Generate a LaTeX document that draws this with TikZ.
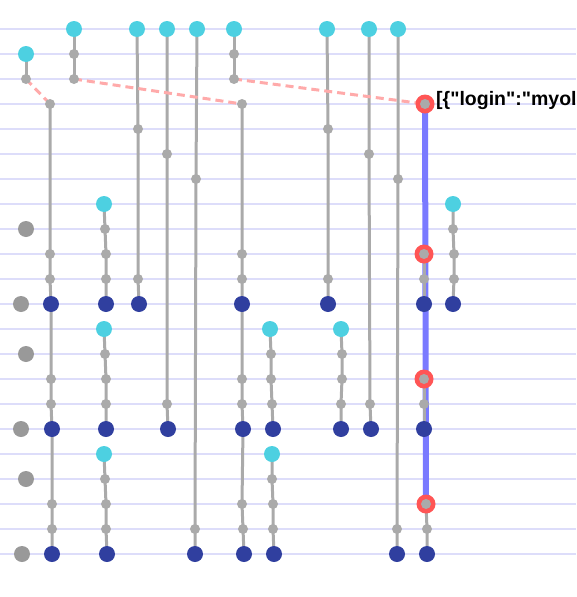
\documentclass[tikz,border=0pt]{standalone}
\usepackage{fontspec}
\setmainfont{Liberation Sans}
\newfontfamily\lblfont{Liberation Sans}[Ligatures=TeXOff]
\definecolor{hline}{RGB}{221,221,250}
\definecolor{gline}{RGB}{170,170,170}
\definecolor{bigg}{RGB}{153,153,153}
\definecolor{cyanc}{RGB}{77,208,225}
\definecolor{navyc}{RGB}{48,63,159}
\definecolor{redc}{RGB}{255,85,85}
\definecolor{pinkc}{RGB}{255,170,170}
\definecolor{bluec}{RGB}{122,122,255}
\pgfdeclarelayer{bg}
\pgfsetlayers{bg,main}
\begin{document}
\begin{tikzpicture}[x=1pt,y=-1pt,
  dot/.style={circle,inner sep=0pt,draw=none},
  cy/.style={dot,fill=cyanc,minimum size=16pt},
  nv/.style={dot,fill=navyc,minimum size=16pt},
  sm/.style={dot,fill=gline,minimum size=10pt},
  bg/.style={dot,fill=bigg,minimum size=16pt},
  rr/.style={dot,fill=redc,minimum size=19pt,
    path picture={\fill[gline] (path picture bounding box.center) circle (5pt);}},
  chain/.style={draw=gline,line width=3pt},
  dash link/.style={draw=pinkc,line width=3pt,dash pattern=on 8pt off 5pt},
  blueline/.style={draw=bluec,line width=6pt},
  lbl/.style={font=\lblfont\bfseries\fontsize{19.5}{22}\selectfont,inner sep=0pt,anchor=base west}]
\useasboundingbox (0,0) rectangle (576,597);
\clip (0,0) rectangle (576,597);
\begin{pgfonlayer}{bg}
\foreach \r in {0,...,21} \draw[hline,line width=2pt] (0,29+25*\r) -- (576,29+25*\r);
\end{pgfonlayer}
% big gray nodes
\node[bg] (g1) at (26,229) {};
\node[bg] (g2) at (21,304) {};
\node[bg] (g3) at (26,354) {};
\node[bg] (g4) at (21,429) {};
\node[bg] (g5) at (26,479) {};
\node[bg] (g6) at (22,554) {};
% chain A
\node[cy] (a0) at (26,54) {};
\node[sm] (a1) at (26,79) {};
% chain B
\node[sm] (b0) at (50,104) {};
\node[sm] (b1) at (50,254) {};
\node[sm] (b2) at (50,279) {};
\node[nv] (b3) at (51,304) {};
\node[sm] (b4) at (51,379) {};
\node[sm] (b5) at (51,404) {};
\node[nv] (b6) at (52,429) {};
\node[sm] (b7) at (52,504) {};
\node[sm] (b8) at (52,529) {};
\node[nv] (b9) at (52,554) {};
% chain C
\node[cy] (c0) at (74,29) {};
\node[sm] (c1) at (74,54) {};
\node[sm] (c2) at (74,79) {};
% chain D
\node[cy] (d0) at (137,29) {};
\node[sm] (d1) at (138,129) {};
\node[sm] (d2) at (138,279) {};
\node[nv] (d3) at (139,304) {};
% chain F
\node[cy] (f0) at (167,29) {};
\node[sm] (f1) at (167,154) {};
\node[sm] (f2) at (167,404) {};
\node[nv] (f3) at (168,429) {};
% chain G
\node[cy] (h0) at (197,29) {};
\node[sm] (h1) at (196,179) {};
\node[sm] (h2) at (195,529) {};
\node[nv] (h3) at (195,554) {};
% chain H
\node[cy] (k0) at (234,29) {};
\node[sm] (k1) at (234,54) {};
\node[sm] (k2) at (234,79) {};
% chain E
\node[sm] (e0) at (242,104) {};
\node[sm] (e1) at (242,254) {};
\node[sm] (e2) at (242,279) {};
\node[nv] (e3) at (242,304) {};
\node[sm] (e4) at (242,379) {};
\node[sm] (e5) at (242,404) {};
\node[nv] (e6) at (243,429) {};
\node[sm] (e7) at (242,504) {};
\node[sm] (e8) at (243,529) {};
\node[nv] (e9) at (244,554) {};
% chains P
\node[cy] (p10) at (104,204) {};
\node[sm] (p11) at (105,229) {};
\node[sm] (p12) at (106,254) {};
\node[sm] (p13) at (106,279) {};
\node[nv] (p14) at (106,304) {};
\node[cy] (p20) at (104,329) {};
\node[sm] (p21) at (105,354) {};
\node[sm] (p22) at (106,379) {};
\node[sm] (p23) at (106,404) {};
\node[nv] (p24) at (106,429) {};
\node[cy] (p30) at (104,454) {};
\node[sm] (p31) at (105,479) {};
\node[sm] (p32) at (106,504) {};
\node[sm] (p33) at (106,529) {};
\node[nv] (p34) at (107,554) {};
% chains Q
\node[cy] (q10) at (270,329) {};
\node[sm] (q11) at (271,354) {};
\node[sm] (q12) at (271,379) {};
\node[sm] (q13) at (272,404) {};
\node[nv] (q14) at (273,429) {};
\node[cy] (q20) at (272,454) {};
\node[sm] (q21) at (272,479) {};
\node[sm] (q22) at (273,504) {};
\node[sm] (q23) at (273,529) {};
\node[nv] (q24) at (274,554) {};
% chain S
\node[cy] (s0) at (327,29) {};
\node[sm] (s1) at (328,129) {};
\node[sm] (s2) at (328,279) {};
\node[nv] (s3) at (328,304) {};
% chain T
\node[cy] (t0) at (341,329) {};
\node[sm] (t1) at (342,354) {};
\node[sm] (t2) at (342,379) {};
\node[sm] (t3) at (341,404) {};
\node[nv] (t4) at (341,429) {};
% chain U
\node[cy] (u0) at (369,29) {};
\node[sm] (u1) at (369,154) {};
\node[sm] (u2) at (370,404) {};
\node[nv] (u3) at (371,429) {};
% chain V
\node[cy] (v0) at (398,29) {};
\node[sm] (v1) at (398,179) {};
\node[sm] (v2) at (397,529) {};
\node[nv] (v3) at (397,554) {};
% chain R
\node[rr] (r0) at (425,104) {};
\node[rr] (r10) at (424,254) {};
\node[sm] (r11) at (424,279) {};
\node[nv] (r12) at (424,304) {};
\node[rr] (r20) at (424,379) {};
\node[sm] (r21) at (424,404) {};
\node[nv] (r22) at (424,429) {};
\node[rr] (r30) at (426,504) {};
\node[sm] (r31) at (427,529) {};
\node[nv] (r32) at (427,554) {};
% chain W
\node[cy] (w0) at (453,204) {};
\node[sm] (w1) at (453,229) {};
\node[sm] (w2) at (454,254) {};
\node[sm] (w3) at (454,279) {};
\node[nv] (w4) at (453,304) {};
% label
\node[lbl] (lab) at (436,105) {[\{"login":"myol};
% connectors
\begin{pgfonlayer}{bg}
\draw[blueline] (r0.center) -- (r30.center);
\draw[chain] (a0.center) -- (a1.center);
\draw[chain] (b0.center) -- (b1.center) -- (b2.center) -- (b3.center) -- (b4.center) -- (b5.center) -- (b6.center) -- (b7.center) -- (b8.center) -- (b9.center);
\draw[chain] (c0.center) -- (c1.center) -- (c2.center);
\draw[chain] (d0.center) -- (d1.center) -- (d2.center) -- (d3.center);
\draw[chain] (f0.center) -- (f1.center) -- (f2.center) -- (f3.center);
\draw[chain] (h0.center) -- (h1.center) -- (h2.center) -- (h3.center);
\draw[chain] (k0.center) -- (k1.center) -- (k2.center);
\draw[chain] (e0.center) -- (e1.center) -- (e2.center) -- (e3.center) -- (e4.center) -- (e5.center) -- (e6.center) -- (e7.center) -- (e8.center) -- (e9.center);
\draw[chain] (p10.center) -- (p11.center) -- (p12.center) -- (p13.center) -- (p14.center);
\draw[chain] (p20.center) -- (p21.center) -- (p22.center) -- (p23.center) -- (p24.center);
\draw[chain] (p30.center) -- (p31.center) -- (p32.center) -- (p33.center) -- (p34.center);
\draw[chain] (q10.center) -- (q11.center) -- (q12.center) -- (q13.center) -- (q14.center);
\draw[chain] (q20.center) -- (q21.center) -- (q22.center) -- (q23.center) -- (q24.center);
\draw[chain] (s0.center) -- (s1.center) -- (s2.center) -- (s3.center);
\draw[chain] (t0.center) -- (t1.center) -- (t2.center) -- (t3.center) -- (t4.center);
\draw[chain] (u0.center) -- (u1.center) -- (u2.center) -- (u3.center);
\draw[chain] (v0.center) -- (v1.center) -- (v2.center) -- (v3.center);
\draw[chain] (r10.center) -- (r11.center) -- (r12.center);
\draw[chain] (r20.center) -- (r21.center) -- (r22.center);
\draw[chain] (r30.center) -- (r31.center) -- (r32.center);
\draw[chain] (w0.center) -- (w1.center) -- (w2.center) -- (w3.center) -- (w4.center);
\draw[dash link] (a1.center) -- (b0.center);
\draw[dash link] (c2.center) -- (e0.center);
\draw[dash link] (k2.center) -- (r0.center);
\end{pgfonlayer}
\end{tikzpicture}
\end{document}
